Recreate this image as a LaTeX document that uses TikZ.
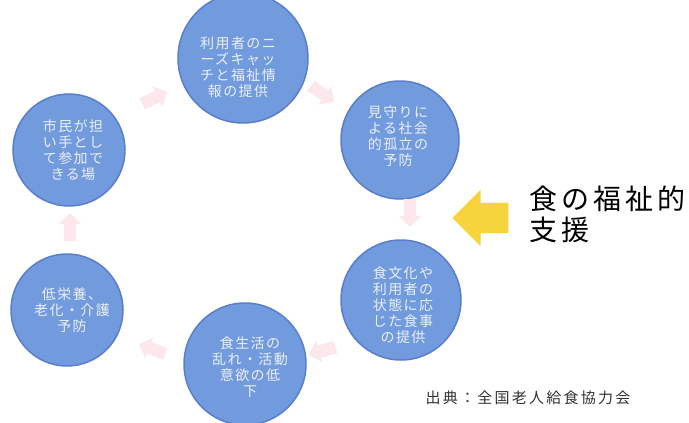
\documentclass[tikz,border=0pt]{standalone}
\usepackage{fontspec}
\newfontfamily\jp{Noto Sans CJK JP}
\usetikzlibrary{shapes.arrows}
\definecolor{cfill}{RGB}{114,155,222}
\definecolor{cdraw}{RGB}{90,126,204}
\definecolor{ctext}{RGB}{234,239,248}
\definecolor{pinkarr}{RGB}{252,232,236}
\definecolor{yel}{RGB}{247,212,60}
\begin{document}
\begin{tikzpicture}[x=1pt,y=-1pt,
  bubble/.style={circle, fill=cfill, draw=cdraw, line width=1.5pt, inner sep=0pt},
  btext/.style={text=ctext, font=\jp\fontsize{14}{16}\selectfont\addfontfeatures{LetterSpace=10}, align=center, inner sep=0pt},
  flow/.style={single arrow, fill=pinkarr, draw=none, minimum height=28pt, inner xsep=0pt, inner ysep=6pt, single arrow head extend=5pt},
]
\useasboundingbox[fill=white] (0,0) rectangle (689,423);
% circles
\node[bubble, minimum size=130pt] (c1) at (243,58) {};
\node[bubble, minimum size=118pt] (c2) at (400,140) {};
\node[bubble, minimum size=120pt] (c3) at (401,300) {};
\node[bubble, minimum size=122pt] (c4) at (245,364) {};
\node[bubble, minimum size=112pt] (c5) at (67,310) {};
\node[bubble, minimum size=112pt] (c6) at (69,150) {};
% circle texts
\node[btext] (t1) at (238,67) {利用者のニ\\ーズキャッ\\チと福祉情\\報の提供};
\node[btext] (t2) at (398,136) {見守りに\\よる社会\\的孤立の\\予防};
\node[btext] (t3) at (403,305) {食文化や\\利用者の\\状態に応\\じた食事\\の提供};
\node[btext] (t4) at (250,367) {食生活の\\乱れ・活動\\意欲の低\\下};
\node[btext] (t5) at (72,310) {低栄養、\\老化・介護\\予防};
\node[btext] (t6) at (73,150) {市民が担\\い手とし\\て参加で\\きる場};
% flow arrows
\node[flow, rotate=25] (a61) at (152,99) {};
\node[flow, rotate=-35] (a12) at (320,92) {};
\node[flow, rotate=-90] (a23) at (410,210) {};
\node[flow, rotate=195] (a34) at (325,350) {};
\node[flow, rotate=160] (a45) at (155,350) {};
\node[flow, rotate=90] (a56) at (70,230) {};
% yellow arrow
\node[single arrow, fill=yel, draw=none, minimum height=56pt, inner xsep=0pt, inner ysep=15pt, single arrow head extend=13pt, rotate=180] (ya) at (488,218) {};
% title
\node[anchor=north west, inner sep=0pt, align=left, font=\jp\fontsize{28}{31}\selectfont\addfontfeatures{LetterSpace=15}] (title) at (529,186) {食の福祉的\\支援};
% source
\node[anchor=center, inner sep=0pt, text=black!80, font=\jp\fontsize{15}{17}\selectfont\addfontfeatures{LetterSpace=15}] (src) at (528,398) {出典：全国老人給食協力会};
\end{tikzpicture}
\end{document}
